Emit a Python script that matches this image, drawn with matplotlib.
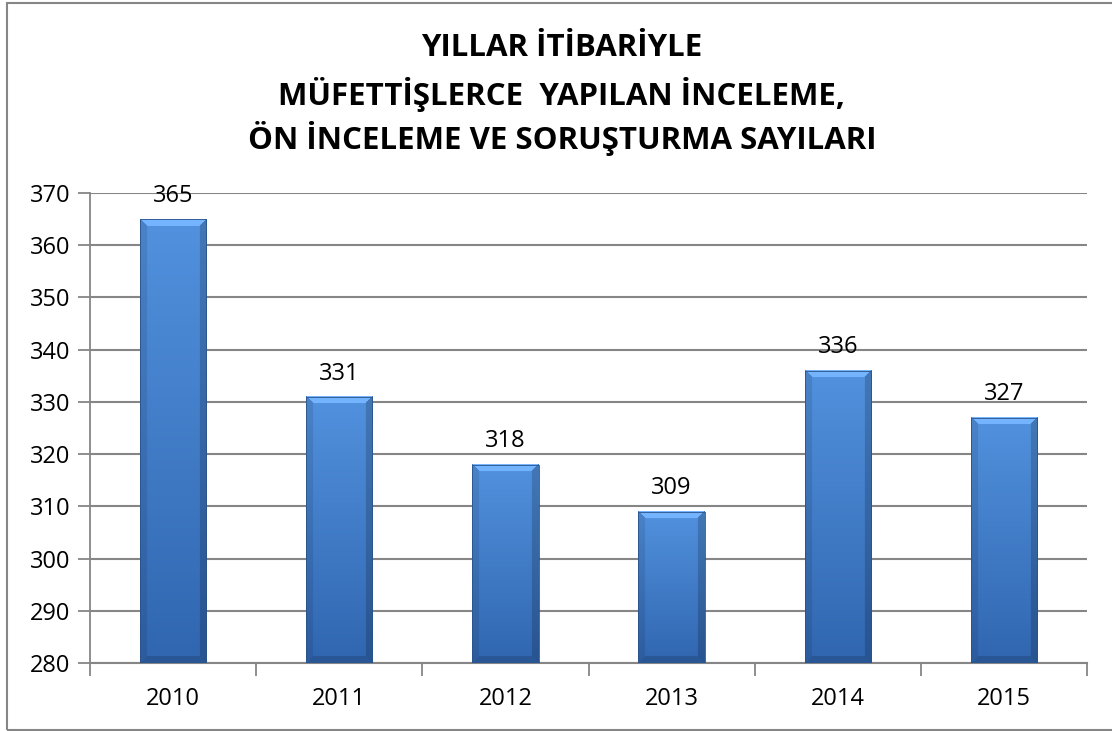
import matplotlib
matplotlib.use("Agg")
import matplotlib.pyplot as plt
import numpy as np
from matplotlib.patches import Rectangle

years = ["2010", "2011", "2012", "2013", "2014", "2015"]
values = [365, 331, 318, 309, 336, 327]
yticks = [280, 290, 300, 310, 320, 330, 340, 350, 360, 370]
title_lines = ["YILLAR İTİBARİYLE", "MÜFETTİŞLERCE  YAPILAN İNCELEME,", "ÖN İNCELEME VE SORUŞTURMA SAYILARI"]

plt.rcParams['font.family'] = ['Open Sans', 'DejaVu Sans']

W, H = 1112, 731
fig = plt.figure(figsize=(W / 100, H / 100), dpi=100)
fig.patch.set_facecolor("white")

# outer border
fig.add_artist(Rectangle((7 / W, 1.5 / H), 1.2, (H - 4.5) / H, transform=fig.transFigure,
                         fill=False, edgecolor="#868686", linewidth=1.5))

ax = fig.add_axes([90 / W, (H - 663) / H, (1087 - 90) / W, (663 - 193) / H])
ax.set_xlim(-0.5, len(years) - 0.5)
ax.set_ylim(yticks[0], yticks[-1])
ax.set_yticks(yticks)
ax.set_xticks(range(len(years)))
ax.set_xticklabels(years)
ax.tick_params(axis="x", length=0, pad=17, labelsize=17)
ax.tick_params(axis="y", length=9, width=1.3, color="#868686", pad=5, labelsize=17)
ax.set_xticks(np.arange(-0.5, len(years)), minor=True)
ax.tick_params(axis="x", which="minor", length=9, width=1.3, color="#868686")
ax.grid(axis="y", color="#868686", linewidth=1.5, zorder=0)
ax.set_axisbelow(True)
for s in ["top", "right"]:
    ax.spines[s].set_visible(False)
ax.spines["left"].set_color("#868686")
ax.spines["left"].set_linewidth(1.3)
ax.spines["bottom"].set_color("#868686")
ax.spines["bottom"].set_linewidth(1.5)

bars = ax.bar(range(len(years)), [v - yticks[0] for v in values], bottom=yticks[0],
              width=0.4, color="none", edgecolor="none", zorder=2)

fig.canvas.draw()
c_top = np.array([0.32, 0.57, 0.87])
c_bot = np.array([0.19, 0.40, 0.69])
bev = 7
for p in bars.patches:
    x0, y0 = p.get_x(), p.get_y()
    x1, y1 = x0 + p.get_width(), y0 + p.get_height()
    (px0, py0), (px1, py1) = ax.transData.transform([(x0, y0), (x1, y1)])
    w = max(int(round(px1 - px0)), 2)
    h = max(int(round(py1 - py0)), 2)
    yy, xx = np.mgrid[0:h, 0:w]
    t = yy / max(h - 1, 1)
    img = c_top[None, None, :] * (1 - t[..., None]) + c_bot[None, None, :] * t[..., None]
    left = (xx < bev) & (yy >= xx) & (h - 1 - yy >= xx)
    right = (w - 1 - xx < bev) & (yy >= w - 1 - xx) & (h - 1 - yy >= w - 1 - xx)
    top = (yy < bev) & (xx > yy) & (w - 1 - xx > yy)
    bottom = (h - 1 - yy < bev) & ~left & ~right
    img[top] = np.clip(img[top] + 0.14, 0, 1)
    img[left] = img[left] * 0.9
    img[right] = img[right] * 0.82
    img[bottom] = img[bottom] * 0.85
    ax.imshow(img, extent=[x0, x1, y0, y1], aspect="auto", zorder=3,
              interpolation="bilinear", origin="upper")
    ax.add_patch(Rectangle((x0, y0), x1 - x0, y1 - y0, fill=False,
                           edgecolor="#2a5288", linewidth=0.6, zorder=4))

ax.set_xlim(-0.5, len(years) - 0.5)
ax.set_ylim(yticks[0], yticks[-1])

for i, v in enumerate(values):
    ax.annotate(str(v), (i, v), xytext=(0, 8), textcoords="offset points",
                ha="center", va="bottom", fontsize=17, zorder=5)

ys = [48, 94, 138]
for line, y in zip(title_lines, ys):
    fig.text(562 / W, 1 - y / H, line, ha="center", va="center",
             fontsize=22.5, fontweight="bold")

fig.savefig("out.png", dpi=100)
